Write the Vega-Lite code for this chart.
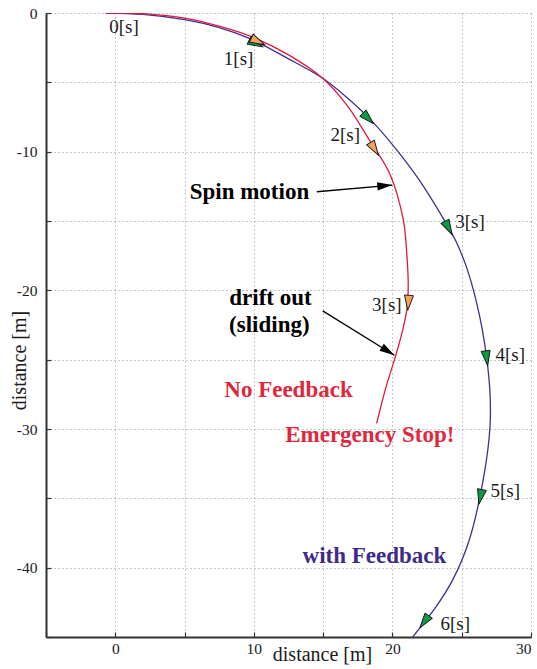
{
  "$schema": "https://vega.github.io/schema/vega-lite/v6.json",
  "width": 485,
  "height": 624,
  "autosize": "none",
  "padding": {"left": 46, "top": 13, "right": 6, "bottom": 32},
  "config": {
    "view": {"stroke": null},
    "font": "Liberation Serif, Times New Roman, DejaVu Serif, serif",
    "axis": {
      "grid": true,
      "gridColor": "#8c8c8c",
      "gridDash": [1, 3],
      "gridWidth": 1,
      "domainColor": "#333333",
      "domainWidth": 2,
      "tickColor": "#333333",
      "tickSize": -5,
      "tickWidth": 1.2,
      "labelFont": "Liberation Serif, Times New Roman, DejaVu Serif, serif",
      "labelFontSize": 15.5,
      "labelColor": "#1a1a1a",
      "titleFont": "Liberation Serif, Times New Roman, DejaVu Serif, serif",
      "titleFontSize": 20,
      "titleFontWeight": "normal",
      "titleColor": "#1a1a1a"
    }
  },
  "datasets": {
    "paths": [
      {"series": "No Feedback", "k": 0, "x": -0.7, "y": 0.0},
      {"series": "No Feedback", "k": 1, "x": 2.0, "y": -0.05},
      {"series": "No Feedback", "k": 2, "x": 5.1, "y": -0.38},
      {"series": "No Feedback", "k": 3, "x": 7.5, "y": -0.95},
      {"series": "No Feedback", "k": 4, "x": 9.7, "y": -1.66},
      {"series": "No Feedback", "k": 5, "x": 12.44, "y": -2.98},
      {"series": "No Feedback", "k": 6, "x": 14.97, "y": -4.71},
      {"series": "No Feedback", "k": 7, "x": 16.83, "y": -6.8},
      {"series": "No Feedback", "k": 8, "x": 18.33, "y": -9.16},
      {"series": "No Feedback", "k": 9, "x": 19.8, "y": -11.57},
      {"series": "No Feedback", "k": 10, "x": 20.79, "y": -14.94},
      {"series": "No Feedback", "k": 11, "x": 21.03, "y": -17.3},
      {"series": "No Feedback", "k": 12, "x": 21.14, "y": -19.6},
      {"series": "No Feedback", "k": 13, "x": 21.05, "y": -21.3},
      {"series": "No Feedback", "k": 14, "x": 20.74, "y": -22.87},
      {"series": "No Feedback", "k": 15, "x": 20.21, "y": -24.8},
      {"series": "No Feedback", "k": 16, "x": 19.54, "y": -26.96},
      {"series": "No Feedback", "k": 17, "x": 18.86, "y": -29.6},
      {"series": "with Feedback", "k": 0, "x": -0.7, "y": 0.0},
      {"series": "with Feedback", "k": 1, "x": 2.0, "y": -0.1},
      {"series": "with Feedback", "k": 2, "x": 5.12, "y": -0.5},
      {"series": "with Feedback", "k": 3, "x": 7.5, "y": -1.05},
      {"series": "with Feedback", "k": 4, "x": 9.68, "y": -1.83},
      {"series": "with Feedback", "k": 5, "x": 12.44, "y": -3.27},
      {"series": "with Feedback", "k": 6, "x": 14.97, "y": -4.71},
      {"series": "with Feedback", "k": 7, "x": 16.65, "y": -6.04},
      {"series": "with Feedback", "k": 8, "x": 18.33, "y": -7.6},
      {"series": "with Feedback", "k": 9, "x": 20.13, "y": -9.65},
      {"series": "with Feedback", "k": 10, "x": 21.94, "y": -12.05},
      {"series": "with Feedback", "k": 11, "x": 23.74, "y": -14.94},
      {"series": "with Feedback", "k": 12, "x": 24.6, "y": -16.5},
      {"series": "with Feedback", "k": 13, "x": 25.3, "y": -18.2},
      {"series": "with Feedback", "k": 14, "x": 25.85, "y": -20.0},
      {"series": "with Feedback", "k": 15, "x": 26.3, "y": -21.9},
      {"series": "with Feedback", "k": 16, "x": 26.65, "y": -23.8},
      {"series": "with Feedback", "k": 17, "x": 26.9, "y": -25.7},
      {"series": "with Feedback", "k": 18, "x": 27.05, "y": -27.6},
      {"series": "with Feedback", "k": 19, "x": 27.04, "y": -29.85},
      {"series": "with Feedback", "k": 20, "x": 26.63, "y": -33.2},
      {"series": "with Feedback", "k": 21, "x": 25.54, "y": -38.02},
      {"series": "with Feedback", "k": 22, "x": 24.34, "y": -40.9},
      {"series": "with Feedback", "k": 23, "x": 23.14, "y": -42.83},
      {"series": "with Feedback", "k": 24, "x": 21.46, "y": -45.0}
    ],
    "stamps": [
      {"series": "with Feedback", "t": 1, "x": 10.15, "y": -2.2, "heading": 27},
      {"series": "with Feedback", "t": 2, "x": 18.25, "y": -7.6, "heading": 45},
      {"series": "with Feedback", "t": 3, "x": 24.05, "y": -15.5, "heading": 62},
      {"series": "with Feedback", "t": 4, "x": 26.8, "y": -24.9, "heading": 82},
      {"series": "with Feedback", "t": 5, "x": 26.35, "y": -34.9, "heading": 102},
      {"series": "with Feedback", "t": 6, "x": 22.3, "y": -43.9, "heading": 126},
      {"series": "No Feedback", "t": 1, "x": 10.3, "y": -2.05, "heading": 26},
      {"series": "No Feedback", "t": 2, "x": 18.7, "y": -9.8, "heading": 58},
      {"series": "No Feedback", "t": 3, "x": 21.15, "y": -20.9, "heading": 95}
    ],
    "stampLabels": [
      {"text": "0[s]", "x": 0.63, "y": -1.44},
      {"text": "1[s]", "x": 8.9, "y": -3.75},
      {"text": "2[s]", "x": 16.6, "y": -9.24},
      {"text": "3[s]", "x": 25.6, "y": -15.5},
      {"text": "3[s]", "x": 19.6, "y": -21.46},
      {"text": "4[s]", "x": 28.5, "y": -25.1},
      {"text": "5[s]", "x": 28.14, "y": -34.88},
      {"text": "6[s]", "x": 24.53, "y": -44.5}
    ],
    "arrows": [
      {"x": 14.54, "y": -12.89, "x2": 19.99, "y2": -12.41, "heading": -5},
      {"x": 14.97, "y": -21.48, "x2": 20.14, "y2": -24.68, "heading": 32}
    ],
    "notes": [
      {"text": "Spin motion", "x": 9.68, "y": -13.42},
      {"text": "drift out", "x": 11.2, "y": -21.07},
      {"text": "(sliding)", "x": 11.12, "y": -23.02}
    ],
    "seriesNotes": [
      {"series": "No Feedback", "text": "No Feedback", "x": 12.5, "y": -27.7},
      {"series": "No Feedback", "text": "Emergency Stop!", "x": 18.37, "y": -30.93},
      {"series": "with Feedback", "text": "with Feedback", "x": 18.7, "y": -39.63}
    ]
  },
  "layer": [
    {
      "data": {"name": "paths"},
      "transform": [{"filter": "datum.series === 'with Feedback'"}],
      "mark": {"type": "line", "interpolate": "catmull-rom", "strokeWidth": 1.3, "color": "#3f2f8f", "clip": true},
      "encoding": {
        "x": {
          "field": "x", "type": "quantitative", "title": "distance [m]",
          "scale": {"domain": [-5, 30], "nice": false, "zero": false},
          "axis": {
            "title": "distance [m]",
            "values": [-5, 0, 5, 10, 15, 20, 25, 30],
            "labelExpr": "datum.value % 10 === 0 ? '' + datum.value : ''",
            "labelPadding": 9,
            "titleX": 276, "titleY": 23, "titleBaseline": "alphabetic"
          }
        },
        "y": {
          "field": "y", "type": "quantitative", "title": "distance [m]",
          "scale": {"domain": [-45, 0], "nice": false, "zero": false},
          "axis": {
            "title": "distance [m]",
            "values": [-45, -40, -35, -30, -25, -20, -15, -10, -5, 0],
            "labelExpr": "datum.value % 10 === 0 ? '' + datum.value : ''",
            "labelPadding": 14,
            "titleX": -21, "titleY": 347, "titleBaseline": "alphabetic"
          }
        },
        "order": {"field": "k", "type": "quantitative"}
      }
    },
    {
      "data": {"name": "paths"},
      "transform": [{"filter": "datum.series === 'No Feedback'"}],
      "mark": {"type": "line", "interpolate": "catmull-rom", "strokeWidth": 1.3, "color": "#e3183a", "clip": true},
      "encoding": {
        "x": {"field": "x", "type": "quantitative", "title": "distance [m]"},
        "y": {"field": "y", "type": "quantitative", "title": "distance [m]"},
        "order": {"field": "k", "type": "quantitative"}
      }
    },
    {
      "data": {"name": "stamps"},
      "mark": {"type": "point", "shape": "M-1,-0.6L1,0L-1,0.6Z", "size": 225, "filled": true, "opacity": 1, "stroke": "#111111", "strokeWidth": 0.9},
      "encoding": {
        "x": {"field": "x", "type": "quantitative", "title": "distance [m]"},
        "y": {"field": "y", "type": "quantitative", "title": "distance [m]"},
        "fill": {
          "field": "series", "type": "nominal", "legend": null,
          "scale": {"domain": ["No Feedback", "with Feedback"], "range": ["#f4a35c", "#0d9a47"]}
        },
        "angle": {"field": "heading", "type": "quantitative", "scale": null}
      }
    },
    {
      "data": {"name": "stampLabels"},
      "mark": {"type": "text", "fontSize": 19, "color": "#1a1a1a", "align": "center", "baseline": "alphabetic"},
      "encoding": {
        "x": {"field": "x", "type": "quantitative", "title": "distance [m]"},
        "y": {"field": "y", "type": "quantitative", "title": "distance [m]"},
        "text": {"field": "text"}
      }
    },
    {
      "data": {"name": "arrows"},
      "mark": {"type": "rule", "color": "#000000", "strokeWidth": 1.3},
      "encoding": {
        "x": {"field": "x", "type": "quantitative", "title": "distance [m]"},
        "y": {"field": "y", "type": "quantitative", "title": "distance [m]"},
        "x2": {"field": "x2"},
        "y2": {"field": "y2"}
      }
    },
    {
      "data": {"name": "arrows"},
      "mark": {"type": "point", "shape": "M0,0L-2,-0.55L-2,0.55Z", "size": 225, "filled": true, "opacity": 1, "color": "#000000"},
      "encoding": {
        "x": {"field": "x2", "type": "quantitative", "title": "distance [m]"},
        "y": {"field": "y2", "type": "quantitative", "title": "distance [m]"},
        "angle": {"field": "heading", "type": "quantitative", "scale": null}
      }
    },
    {
      "data": {"name": "notes"},
      "mark": {"type": "text", "fontSize": 23, "fontWeight": "bold", "color": "#000000", "align": "center", "baseline": "alphabetic"},
      "encoding": {
        "x": {"field": "x", "type": "quantitative", "title": "distance [m]"},
        "y": {"field": "y", "type": "quantitative", "title": "distance [m]"},
        "text": {"field": "text"}
      }
    },
    {
      "data": {"name": "seriesNotes"},
      "mark": {"type": "text", "fontSize": 23, "fontWeight": "bold", "align": "center", "baseline": "alphabetic"},
      "encoding": {
        "x": {"field": "x", "type": "quantitative", "title": "distance [m]"},
        "y": {"field": "y", "type": "quantitative", "title": "distance [m]"},
        "text": {"field": "text"},
        "color": {
          "field": "series", "type": "nominal", "legend": null,
          "scale": {"domain": ["No Feedback", "with Feedback"], "range": ["#e0283c", "#3d2b8a"]}
        }
      }
    }
  ]
}
